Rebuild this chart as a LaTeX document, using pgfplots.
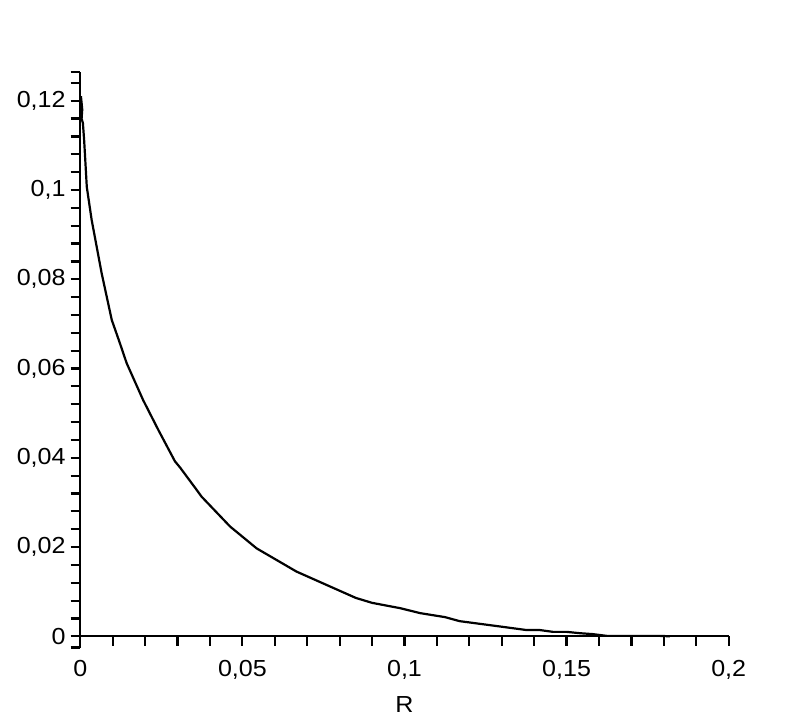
\documentclass[border=0pt]{standalone}
\usepackage{fontspec}
\setmainfont{Liberation Sans}[FakeStretch=1.08]
\usepackage{pgfplots}
\pgfplotsset{compat=1.18}
\begin{document}
\fontsize{11.6pt}{13pt}\selectfont
\begin{tikzpicture}
\path[use as bounding box] (0,0) rectangle (405pt,360pt);
\begin{axis}[
at={(40.15pt,36.15pt)}, anchor=south west,
scale only axis,
width=324.2pt,
height=288pt,
axis lines=middle,
axis line style={-, line width=1.1pt},
xmin=0, xmax=0.2,
ymin=-0.00255, ymax=0.1265,
hide obscured x ticks=false,
hide obscured y ticks=false,
scaled ticks=false,
xtick={0,0.05,0.1,0.15,0.2},
minor xtick={0.01,0.02,0.03,0.04,0.06,0.07,0.08,0.09,0.11,0.12,0.13,0.14,0.16,0.17,0.18,0.19},
ytick={0,0.02,0.04,0.06,0.08,0.1,0.12},
minor ytick={-0.0025,0.004,0.008,0.012,0.016,0.024,0.028,0.032,0.036,0.044,0.048,0.052,0.056,0.064,0.068,0.072,0.076,0.084,0.088,0.092,0.096,0.104,0.108,0.112,0.116,0.124,0.1265},
tick align=outside,
major tick length=4.8pt,
minor tick length=4.8pt,
every tick/.style={black, line width=1.1pt},
xticklabel={\pgfmathprintnumber[use comma, fixed, precision=2, assume math mode=true]{\tick}},
yticklabel={\pgfmathprintnumber[use comma, fixed, precision=2, assume math mode=true]{\tick}},
xticklabel style={anchor=north, yshift=-3pt},
yticklabel style={anchor=east, xshift=1.5pt},
xlabel={R},
xlabel style={at={(axis description cs:0.5,0)}, anchor=base, yshift=-32.5pt},
clip=false
]
\addplot[black, line width=1.1pt] coordinates {
(0.0002,0.1210) (0.0006,0.1180) (0.0004,0.1160) (0.0008,0.1150)
(0.0012,0.1110) (0.0020,0.1007) (0.0035,0.0933) (0.0066,0.0813)
(0.0097,0.0709) (0.0122,0.0657) (0.0143,0.0612) (0.0194,0.0529)
(0.0241,0.0462) (0.0292,0.0392) (0.0308,0.0378) (0.0359,0.0328)
(0.0374,0.0313) (0.0462,0.0246) (0.0544,0.0197) (0.0667,0.0145)
(0.0791,0.0105) (0.0850,0.0086) (0.0900,0.0075) (0.0987,0.0063)
(0.1048,0.0052) (0.1125,0.0043) (0.1170,0.0034) (0.1295,0.0022)
(0.1377,0.0014) (0.1418,0.0014) (0.1458,0.0010) (0.1500,0.0010)
(0.1541,0.0007) (0.1580,0.0005) (0.1624,0.0001) (0.1788,0.0001)
(0.1819,0.0000)
};
\end{axis}
\end{tikzpicture}
\end{document}
